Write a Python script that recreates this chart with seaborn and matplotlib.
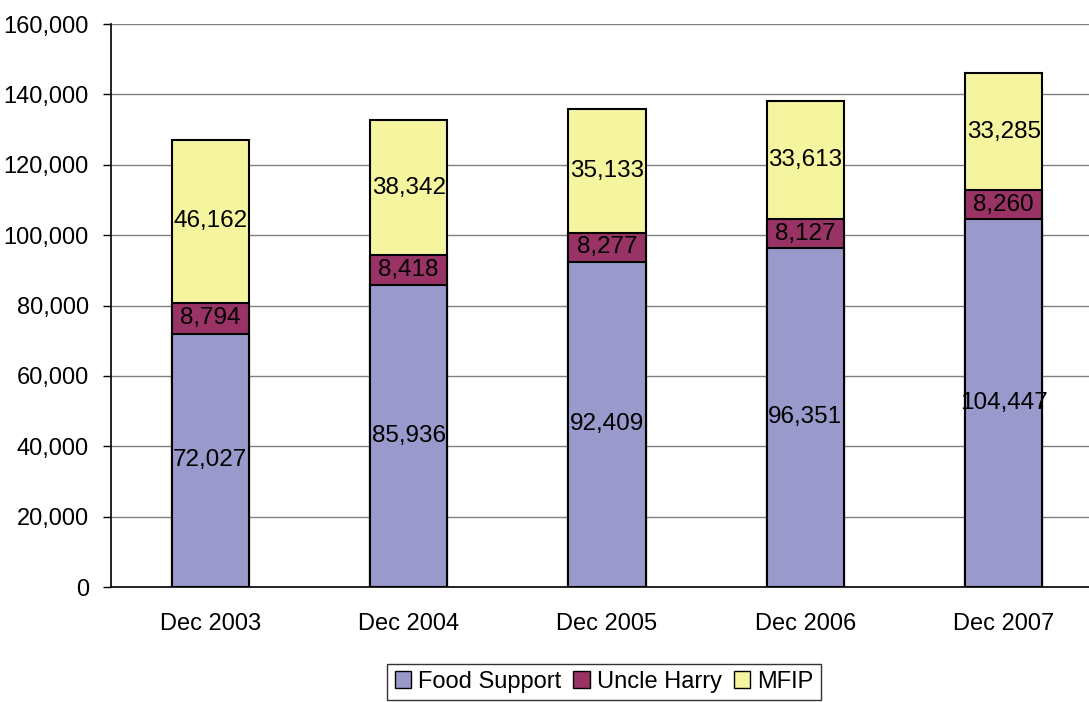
import pandas as pd
import matplotlib.pyplot as plt
import seaborn as sns
import numpy as np
from matplotlib.patches import Patch
from matplotlib.ticker import FuncFormatter, MultipleLocator

# Values
periods = ['Dec 2003', 'Dec 2004', 'Dec 2005', 'Dec 2006', 'Dec 2007']
food_support = [72027, 85936, 92409, 96351, 104447]
uncle_harry = [8794, 8418, 8277, 8127, 8260]
mfip = [46162, 38342, 35133, 33613, 33285]

series_names = ['Food Support', 'Uncle Harry', 'MFIP']
colors = ['#9999cc', '#993366', '#f5f5a0']

sns.set_style('white')
plt.rcParams['font.family'] = ['Liberation Sans', 'DejaVu Sans']
plt.rcParams['text.color'] = 'black'
plt.rcParams['xtick.color'] = 'black'
plt.rcParams['ytick.color'] = 'black'
plt.rcParams['axes.labelcolor'] = 'black'

df = pd.DataFrame({'period': periods, 'Food Support': food_support,
                   'Uncle Harry': uncle_harry, 'MFIP': mfip})
df['fs_top'] = df['Food Support']
df['uh_top'] = df['fs_top'] + df['Uncle Harry']
df['total'] = df['uh_top'] + df['MFIP']

fig = plt.figure(figsize=(10.89, 7.02), dpi=100)
ax = fig.add_axes([111 / 1089, 1 - 587 / 702, 992 / 1089, 563 / 702])

# stacked bars drawn back to front
for col, c in zip(['total', 'uh_top', 'fs_top'], colors[::-1]):
    sns.barplot(data=df, x='period', y=col, color=c, width=0.39,
                edgecolor='black', linewidth=1.5, saturation=1, ax=ax, zorder=3)

# segment labels in the middle of each piece
bottoms = np.zeros(len(periods))
for name in series_names:
    vals = np.array(df[name])
    for i, v in enumerate(vals):
        ax.text(i, bottoms[i] + v / 2, f'{v:,}', ha='center', va='center',
                fontsize=17.5, color='black', zorder=4)
    bottoms += vals

ax.set_ylim(0, 160000)
ax.set_xlim(-0.5, 4.5)
ax.yaxis.set_major_locator(MultipleLocator(20000))
ax.yaxis.set_major_formatter(FuncFormatter(lambda v, p: f'{int(v):,}'))
ax.grid(axis='y', color='#808080', linewidth=1, zorder=0)
ax.set_axisbelow(True)

ax.set_xlabel('')
ax.set_ylabel('')
for s in ['top', 'right']:
    ax.spines[s].set_visible(False)
for s in ['left', 'bottom']:
    ax.spines[s].set_color('black')
    ax.spines[s].set_linewidth(1.2)

ax.set_xticks(np.arange(-0.5, 5, 1), minor=True)
ax.tick_params(axis='x', which='major', length=0, pad=19, labelsize=17)
ax.tick_params(axis='x', which='minor', length=6, width=1, color='black', direction='out')
ax.tick_params(axis='y', length=6, width=1, color='black', direction='out',
               pad=10, labelsize=17, left=True)

handles = [Patch(facecolor=c, edgecolor='black', linewidth=1) for c in colors]
fig.legend(handles, series_names, loc='lower center', ncol=3,
           bbox_to_anchor=(604 / 1089, -0.014), fontsize=17, frameon=True,
           fancybox=False, edgecolor='black', handlelength=0.7, handleheight=0.7,
           handletextpad=0.3, columnspacing=0.5, borderpad=0.3)

fig.savefig('out.png', dpi=100)
